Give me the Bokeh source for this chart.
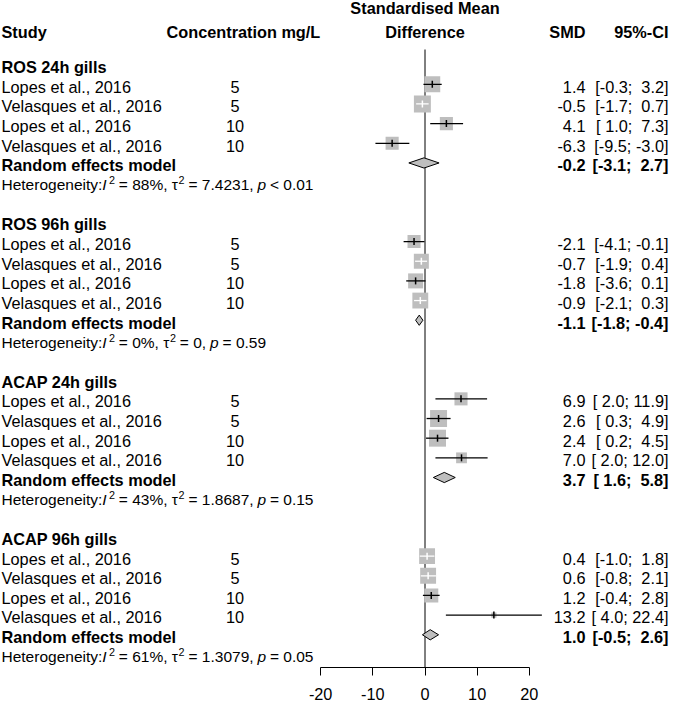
import math
from bokeh.plotting import figure
from bokeh.models import Range1d, FixedTicker
from bokeh.core.properties import value
from bokeh.embed import file_html
from bokeh.resources import INLINE

# ---------------- data ----------------
groups = ["ROS 24h gills", "ROS 96h gills", "ACAP 24h gills", "ACAP 96h gills"]
studies = ["Lopes et al., 2016", "Velasques et al., 2016", "Lopes et al., 2016", "Velasques et al., 2016"]
conc = ["5", "5", "10", "10"]
smd = [[1.4, -0.5, 4.1, -6.3], [-2.1, -0.7, -1.8, -0.9], [6.9, 2.6, 2.4, 7.0], [0.4, 0.6, 1.2, 13.2]]
lower = [[-0.3, -1.7, 1.0, -9.5], [-4.1, -1.9, -3.6, -2.1], [2.0, 0.3, 0.2, 2.0], [-1.0, -0.8, -0.4, 4.0]]
upper = [[3.2, 0.7, 7.3, -3.0], [-0.1, 0.4, 0.1, 0.3], [11.9, 4.9, 4.5, 12.0], [1.8, 2.1, 2.8, 22.4]]
weights = [[28, 32, 19, 19], [19, 25, 25, 28], [19, 32, 32, 13], [28, 28, 22, 3]]
re_smd = [-0.2, -1.1, 3.7, 1.0]
re_lower = [-3.1, -1.8, 1.6, -0.5]
re_upper = [2.7, -0.4, 5.8, 2.6]
het_i2 = ["88%", "0%", "43%", "61%"]
het_tau2 = ["7.4231", "0", "1.8687", "1.3079"]
het_p = ["< 0.01", "= 0.59", "= 0.15", "= 0.05"]
x_ticks = [-20, -10, 0, 10, 20]

# ---------------- layout ----------------
W, H = 669, 704
BORDER_BOTTOM = 37
ZERO_PX = 424.5
PPU = 5.217
ROW0 = 66.5
RPX = 19.66
FONT = "Liberation Sans"
FS = 16.3
HFS = 15.5
SUP_FS = 10.8
SPACE = 250
MARK_DY = -0.12
GRAY = "#BEBEBE"

def ux(px):
    return (px - ZERO_PX) / PPU

frame_h = H - BORDER_BOTTOM
y_bottom = (frame_h - ROW0) / RPX
p = figure(width=W, height=H, output_backend="svg", toolbar_location=None,
           x_range=Range1d(ux(0), ux(W)),
           y_range=Range1d(y_bottom, -ROW0 / RPX),
           y_axis_location=None, min_border_left=0, min_border_right=0,
           min_border_top=0, min_border_bottom=BORDER_BOTTOM)
p.outline_line_color = None
p.grid.visible = False
p.background_fill_color = "white"
p.border_fill_color = "white"

ax = p.xaxis[0]
ax.ticker = FixedTicker(ticks=x_ticks)
ax.major_label_overrides = {t: str(t) for t in x_ticks}
ax.bounds = (x_ticks[0], x_ticks[-1])
ax.axis_line_color = "black"
ax.major_tick_line_color = "black"
ax.major_tick_out = 8
ax.major_tick_in = 0
ax.minor_tick_line_color = None
ax.major_label_text_font = FONT
ax.major_label_text_font_size = f"{FS}px"
ax.major_label_text_color = "black"
ax.major_label_standoff = 12

# reference line at zero
p.segment(x0=[0], y0=[-0.89], x1=[0], y1=[y_bottom], line_color="black", line_width=1)

def tfont(**kw):
    d = dict(text_font=value(FONT), text_font_size=f"{FS}px", text_color="black", text_baseline="middle")
    d.update(kw)
    return d

HEAD1, HEAD2 = -2.99, -1.79
# headers
p.text(x=[ux(1)], y=[HEAD2], text=["Study"], **tfont(text_font_style="bold", text_align="left"))
p.text(x=[ux(166)], y=[HEAD2], text=["Concentration mg/L"], **tfont(text_font_style="bold", text_align="left"))
p.text(x=[0, 0], y=[HEAD1, HEAD2], text=["Standardised Mean", "Difference"], **tfont(text_font_style="bold", text_align="center"))
p.text(x=[ux(585)], y=[HEAD2], text=["SMD"], **tfont(text_font_style="bold", text_align="right"))
p.text(x=[ux(668)], y=[HEAD2], text=["95%-CI"], **tfont(text_font_style="bold", text_align="right"))

NB = "\u00a0"
def pad(v):
    s = f"{v:.1f}"
    return NB * max(0, 4 - len(s)) + s
def ci(lo, hi):
    return f"[{pad(lo)};{NB}{pad(hi)}]"

# width table (Arial / Liberation Sans metrics, per 1000 em)
WID = {' ': 278, '\u00a0': 278, '.': 278, ',': 278, '%': 889, '=': 584, '<': 584, ':': 278, '\u03c4': 440,
       'H': 722, 'e': 556, 't': 278, 'r': 333, 'o': 556, 'g': 556, 'n': 556, 'i': 222, 'y': 500}
for d in "0123456789":
    WID[d] = 556
def twidth(s, fs):
    return sum(WID.get(c, 556) for c in s) * fs / 1000.0

study_x, study_y, study_t = [], [], []
bold_x, bold_y, bold_t = [], [], []
conc_x, conc_y, conc_t = [], [], []
smd_y, smd_t, ci_t = [], [], []
re_y, re_st, re_ct = [], [], []
sq_x, sq_y, sq_s = [], [], []
seg_x0, seg_x1, seg_y, seg_c = [], [], [], []
dia_xs, dia_ys = [], []
het = {"normal": ([], [], []), "italic": ([], [], []), "sup": ([], [], [])}

for g, name in enumerate(groups):
    base = g * 8
    bold_x.append(ux(1)); bold_y.append(base); bold_t.append(name)
    for i in range(4):
        k = base + 1 + i
        study_x.append(ux(1)); study_y.append(k); study_t.append(studies[i])
        conc_x.append(ux(234.5)); conc_y.append(k); conc_t.append(conc[i])
        smd_y.append(k); smd_t.append(f"{smd[g][i]:.1f}"); ci_t.append(ci(lower[g][i], upper[g][i]))
        side = 3.0 * math.sqrt(weights[g][i])
        sq_x.append(smd[g][i]); sq_y.append(k + MARK_DY); sq_s.append(side)
        inside = (upper[g][i] - lower[g][i]) * PPU < side
        seg_x0.append(lower[g][i]); seg_x1.append(upper[g][i]); seg_y.append(k + MARK_DY)
        seg_c.append("white" if inside else "black")
    k = base + 5
    bold_x.append(ux(1)); bold_y.append(k); bold_t.append("Random effects model")
    re_y.append(k); re_st.append(f"{re_smd[g]:.1f}"); re_ct.append(ci(re_lower[g], re_upper[g]))
    yk = k + MARK_DY
    dia_xs.append([re_lower[g], re_smd[g], re_upper[g], re_smd[g]])
    dia_ys.append([yk, yk - 0.26, yk, yk + 0.26])
    # heterogeneity line
    k = base + 6
    pieces = [("Heterogeneity:", "normal"), ("I", "italic"), ("2", "sup"),
              (f" = {het_i2[g]}, \u03c4", "normal"), ("2", "sup"),
              (f" = {het_tau2[g]}, ", "normal"), ("p", "italic"), (" " + het_p[g], "normal")]
    cur = 1.0
    prev = None
    for txt, sty in pieces:
        fs = SUP_FS if sty == "sup" else HFS
        lead = len(txt) - len(txt.lstrip(" "))
        core = txt.strip(" ")
        trail = len(txt) - len(txt.rstrip(" "))
        cur += lead * SPACE * fs / 1000.0
        if sty == "sup" and prev == "italic":
            cur -= 2.0
        xs, ys, ts = het[sty]
        xs.append(ux(cur)); ys.append(k - (0.24 if sty == "sup" else 0)); ts.append(core)
        cur += twidth(core, fs) + trail * SPACE * fs / 1000.0
        prev = sty

# forest marks
p.scatter(x=sq_x, y=sq_y, size=sq_s, marker="square", fill_color=GRAY, line_color=None)
p.segment(x0=seg_x0, y0=seg_y, x1=seg_x1, y1=seg_y, line_color=seg_c, line_width=1.3)
p.scatter(x=sq_x, y=sq_y, size=7, marker="dash", angle=math.pi / 2, line_color=seg_c, line_width=1.5)
p.patches(xs=dia_xs, ys=dia_ys, fill_color=GRAY, line_color="black", line_width=1)

# texts
p.text(x=bold_x, y=bold_y, text=bold_t, **tfont(text_font_style="bold", text_align="left"))
p.text(x=study_x, y=study_y, text=study_t, **tfont(text_align="left"))
p.text(x=conc_x, y=conc_y, text=conc_t, **tfont(text_align="center"))
p.text(x=[ux(585)] * len(smd_y), y=smd_y, text=smd_t, **tfont(text_align="right"))
p.text(x=[ux(668)] * len(smd_y), y=smd_y, text=ci_t, **tfont(text_align="right"))
p.text(x=[ux(585)] * len(re_y), y=re_y, text=re_st, **tfont(text_align="right", text_font_style="bold"))
p.text(x=[ux(668)] * len(re_y), y=re_y, text=re_ct, **tfont(text_align="right", text_font_style="bold"))
hx, hy, ht = het["normal"]
p.text(x=hx, y=hy, text=ht, **tfont(text_align="left", text_font_size=f"{HFS}px"))
hx, hy, ht = het["italic"]
p.text(x=hx, y=hy, text=ht, **tfont(text_align="left", text_font_style="italic", text_font_size=f"{HFS}px"))
hx, hy, ht = het["sup"]
p.text(x=hx, y=hy, text=ht, **tfont(text_align="left", text_font_size=f"{SUP_FS}px"))

open("out.html", "w").write(file_html(p, INLINE))
